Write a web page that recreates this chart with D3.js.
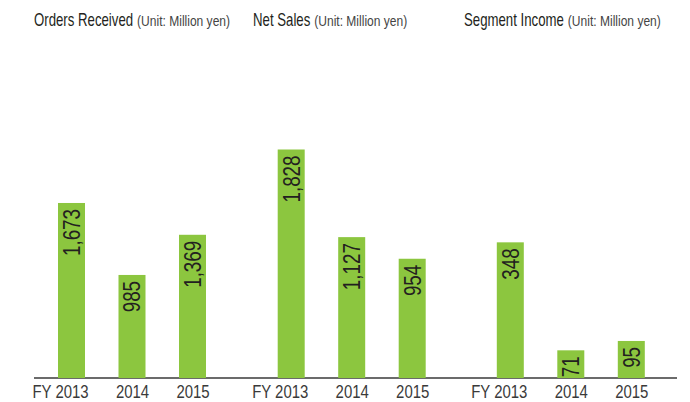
<!DOCTYPE html>
<html>
<head>
<meta charset="utf-8">
<script src="https://cdn.jsdelivr.net/npm/d3@7"></script>
<style>
  body { margin: 0; background: #fff; }
  svg { display: block; }
</style>
</head>
<body>
<div class="graph"></div>
<script>
// Data
const years = ['2013', '2014', '2015'];
const panelTitles = ['Orders Received', 'Net Sales', 'Segment Income'];
const unitLabel = '(Unit: Million yen)';
const ordersReceived = [1673, 985, 1369];
const netSales = [1828, 1127, 954];
const segmentIncome = [348, 71, 95];

const panels = [ordersReceived, netSales, segmentIncome];

// Layout
const width = 690;
const height = 402;
const baseline = 378;
const plotTop = 40;
const panelLeft = [71.5, 291.2, 510.3];
const titleX = [34, 253, 464];
const yMax = [3231, 2704, 867];
const barWidth = 27;
const font = "'Liberation Sans', Arial, sans-serif";

const svg = d3.select('.graph')
    .append('svg')
    .attr('width', width)
    .attr('height', height);

// Baseline across all panels
svg.append('line')
    .attr('x1', 34)
    .attr('x2', 677)
    .attr('y1', baseline)
    .attr('y2', baseline)
    .attr('stroke', '#3a3a3a')
    .attr('stroke-width', 1.5);

panels.forEach((values, i) => {
    const g = svg.append('g')
        .attr('transform', `translate(${panelLeft[i]},0)`);

    const xScale = d3.scalePoint()
        .domain(years)
        .range([0, 121]);

    const yScale = d3.scaleLinear()
        .domain([0, yMax[i]])
        .range([baseline, plotTop]);

    // Title (condensed by squeezing horizontally)
    const title = svg.append('text')
        .attr('transform', `translate(${titleX[i]},26) scale(0.755,1)`)
        .attr('font-family', font)
        .attr('font-size', 17.5)
        .attr('fill', '#231f20')
        .text(panelTitles[i]);
    const tw = title.node().getComputedTextLength() * 0.755;

    svg.append('text')
        .attr('transform', `translate(${titleX[i] + tw + 4},26) scale(0.86,1)`)
        .attr('font-family', font)
        .attr('font-size', 14)
        .attr('fill', '#444')
        .text(unitLabel);

    // Bars
    g.selectAll('.bar')
        .data(values)
        .enter()
        .append('rect')
        .attr('class', 'bar')
        .attr('x', (d, j) => xScale(years[j]) - barWidth / 2)
        .attr('y', d => yScale(d))
        .attr('width', barWidth)
        .attr('height', d => baseline - yScale(d))
        .attr('fill', '#8cc63f');

    // Value labels, rotated inside the bar top
    g.selectAll('.value')
        .data(values)
        .enter()
        .append('text')
        .attr('class', 'value')
        .attr('transform', (d, j) => `translate(${xScale(years[j])},${yScale(d) + 6}) rotate(-90) scale(0.8,1)`)
        .attr('text-anchor', 'end')
        .attr('dy', '0.36em')
        .attr('font-family', font)
        .attr('font-size', 23.5)
        .attr('fill', '#231f20')
        .text(d => d3.format(',')(d));

    // X axis labels
    const xAxis = d3.axisBottom(xScale)
        .tickSize(0)
        .tickPadding(7);

    const axisG = g.append('g')
        .attr('transform', `translate(0,${baseline})`)
        .call(xAxis);

    axisG.select('.domain').remove();
    axisG.selectAll('text')
        .attr('transform', 'scale(0.83,1)')
        .attr('font-family', font)
        .attr('font-size', 18)
        .attr('fill', '#3a3a3a');

    // First year gets the "FY" prefix, keeping the year centred
    const first = axisG.select('.tick text');
    const w = first.node().getComputedTextLength();
    first.attr('text-anchor', 'end')
        .attr('x', w / 2)
        .text('FY ' + years[0]);
});
</script>
</body>
</html>
